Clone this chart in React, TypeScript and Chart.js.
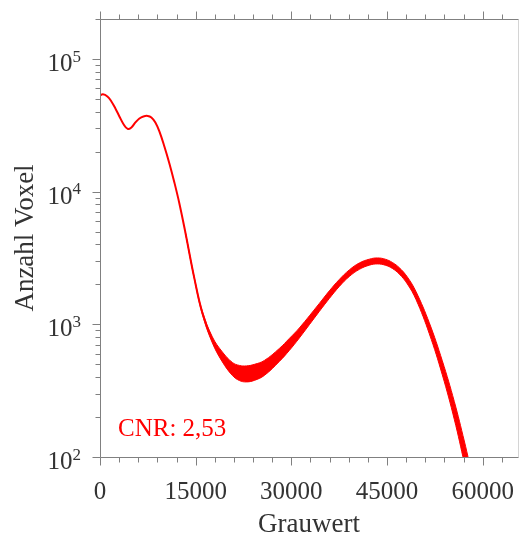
import React, { useEffect, useRef } from "react";
import { Chart, registerables } from "chart.js";

Chart.register(...registerables);

// Grey values (x) and voxel counts of the histogram centre line
const grauwert = [0, 455, 1160, 1787, 2414, 3041, 3668, 4342, 4922, 5549, 6176, 6803, 7477, 8056, 8683, 9310, 10094, 10878, 11661, 12445, 13386, 14796, 16050, 17618, 19185, 20753, 21850, 22947, 24201, 25769, 28120, 29687, 31254, 34389, 35957, 37524, 39091, 40659, 42226, 43480, 44734, 45831, 46928, 48182, 49546, 51630, 53668, 55549, 57116, 57900];
const anzahl = [53070, 54200, 52170, 47830, 42360, 36870, 32370, 29690, 30470, 33220, 35610, 36870, 37200, 36240, 33230, 28430, 21900, 16320, 11730, 8150, 4925, 2218, 1219, 763, 568, 461, 430, 423, 434, 469, 588, 706, 861, 1341, 1673, 2051, 2429, 2743, 2940, 3004, 2938, 2779, 2526, 2142, 1646, 934, 470, 224, 109, 74];

// Noise envelope (upper / lower)
const rauschX = [13386, 14796, 16050, 17618, 19185, 20753, 21850, 22947, 24201, 25769, 28120, 29687, 31254, 34389, 35957, 37524, 39091, 40659, 42226, 43480, 44734, 45831, 46928, 48182, 49546, 51630, 53668, 55549, 57116, 57900];
const rauschOben = [4925, 2237, 1251, 804, 619, 516, 490, 486, 499, 534, 658, 783, 939, 1437, 1787, 2179, 2572, 2900, 3097, 3164, 3095, 2927, 2670, 2276, 1764, 1027, 531, 262, 132, 91];
const rauschUnten = [4925, 2199, 1188, 724, 521, 412, 377, 368, 378, 412, 525, 636, 789, 1251, 1566, 1930, 2294, 2595, 2791, 2852, 2789, 2638, 2390, 2016, 1536, 849, 416, 192, 90, 60];

// Axis settings / tick labels
const xMin = 0;
const xMax = 65535;
const xTicks = [0, 15000, 30000, 45000, 60000];
const xMinorStep = 3000;
const yMin = 100;
const yMax = 200000;
const yDecades = [100, 1000, 10000, 100000];
const xTitle = "Grauwert";
const yTitle = "Anzahl Voxel";
const annotation = "CNR: 2,53";

const FONT = "'Liberation Serif', 'Times New Roman', serif";

const axesPlugin = {
  id: "pgfAxes",
  afterDraw(chart: any) {
    const { ctx, chartArea: a, scales } = chart;
    const xs = scales.x;
    const ys = scales.y;
    const L = a.left + 0.5;
    const R = a.right + 0.5;
    const T = a.top + 0.5;
    const B = a.bottom + 0.5;
    const line = (x1: number, y1: number, x2: number, y2: number) => {
      ctx.beginPath();
      ctx.moveTo(x1, y1);
      ctx.lineTo(x2, y2);
      ctx.stroke();
    };
    ctx.save();
    ctx.lineWidth = 1;
    ctx.strokeStyle = "#d4d4d4";
    line(R, T, R, B);
    ctx.strokeStyle = "#808080";
    line(L, T, L, B);
    line(L, B, R, B);
    line(L, T, R, T);

    // x ticks (bottom and top, outward)
    for (let v = xMin; v <= xMax; v += xMinorStep) {
      const px = Math.round(xs.getPixelForValue(v)) + 0.5;
      const len = xTicks.includes(v) ? 8 : 5;
      line(px, B, px, B + len);
      line(px, T, px, T - len);
    }
    // y ticks (left, outward)
    for (const d of yDecades) {
      for (let m = 1; m <= 9; m++) {
        const v = m * d;
        if (v > yMax) break;
        const py = Math.round(ys.getPixelForValue(v)) + 0.5;
        const len = m === 1 ? 8 : 5;
        line(L - len, py, L, py);
      }
    }

    ctx.fillStyle = "#333333";
    // x tick labels
    ctx.font = `25px ${FONT}`;
    ctx.textAlign = "center";
    ctx.textBaseline = "alphabetic";
    for (const v of xTicks) {
      ctx.fillText(String(v), xs.getPixelForValue(v), a.bottom + 42);
    }
    // y tick labels 10^n
    for (const d of yDecades) {
      const e = String(Math.round(Math.log10(d)));
      const py = ys.getPixelForValue(d);
      const right = a.left - 19;
      ctx.font = `17px ${FONT}`;
      ctx.textAlign = "right";
      const ew = ctx.measureText(e).width;
      ctx.fillText(e, right, py + 2.7);
      ctx.font = `25px ${FONT}`;
      ctx.fillText("10", right - ew, py + 12);
    }

    // axis titles
    ctx.font = `27px ${FONT}`;
    ctx.textAlign = "center";
    ctx.fillText(xTitle, (a.left + a.right) / 2, a.bottom + 75);
    ctx.save();
    ctx.translate(33, (a.top + a.bottom) / 2);
    ctx.rotate(-Math.PI / 2);
    ctx.fillText(yTitle, 0, 0);
    ctx.restore();

    // annotation
    ctx.fillStyle = "#ff0000";
    ctx.font = `25px ${FONT}`;
    ctx.textAlign = "left";
    ctx.fillText(annotation, a.left + 18, a.bottom - 21);
    ctx.restore();
  },
};

export default function App() {
  const ref = useRef<HTMLCanvasElement>(null);
  useEffect(() => {
    document.body.style.margin = "0";
    const canvas = ref.current;
    if (!canvas) return;
    const toPts = (xsArr: number[], ysArr: number[]) => xsArr.map((x, i) => ({ x, y: ysArr[i] }));
    const chart = new Chart(canvas, {
      type: "line",
      data: {
        datasets: [
          {
            label: "oben",
            data: toPts(rauschX, rauschOben),
            borderColor: "#ff0000",
            borderWidth: 1,
            pointRadius: 0,
            fill: false,
            tension: 0.4,
          },
          {
            label: "unten",
            data: toPts(rauschX, rauschUnten),
            borderColor: "#ff0000",
            backgroundColor: "#ff0000",
            borderWidth: 1,
            pointRadius: 0,
            fill: "-1",
            tension: 0.4,
          },
          {
            label: "Histogramm",
            data: toPts(grauwert, anzahl),
            borderColor: "#ff0000",
            borderWidth: 2,
            pointRadius: 0,
            fill: false,
            tension: 0.4,
          },
        ],
      },
      options: {
        responsive: false,
        animation: false,
        devicePixelRatio: 1,
        layout: { padding: { left: 100, right: 1, top: 19, bottom: 80 } },
        plugins: { legend: { display: false }, tooltip: { enabled: false } },
        scales: {
          x: { type: "linear", min: xMin, max: xMax, display: false },
          y: { type: "logarithmic", min: yMin, max: yMax, display: false },
        },
      },
      plugins: [axesPlugin],
    } as any);
    return () => chart.destroy();
  }, []);
  return (
    <div style={{ width: 519, height: 537, background: "#fff" }}>
      <canvas ref={ref} width={519} height={537} style={{ display: "block" }} />
    </div>
  );
}
